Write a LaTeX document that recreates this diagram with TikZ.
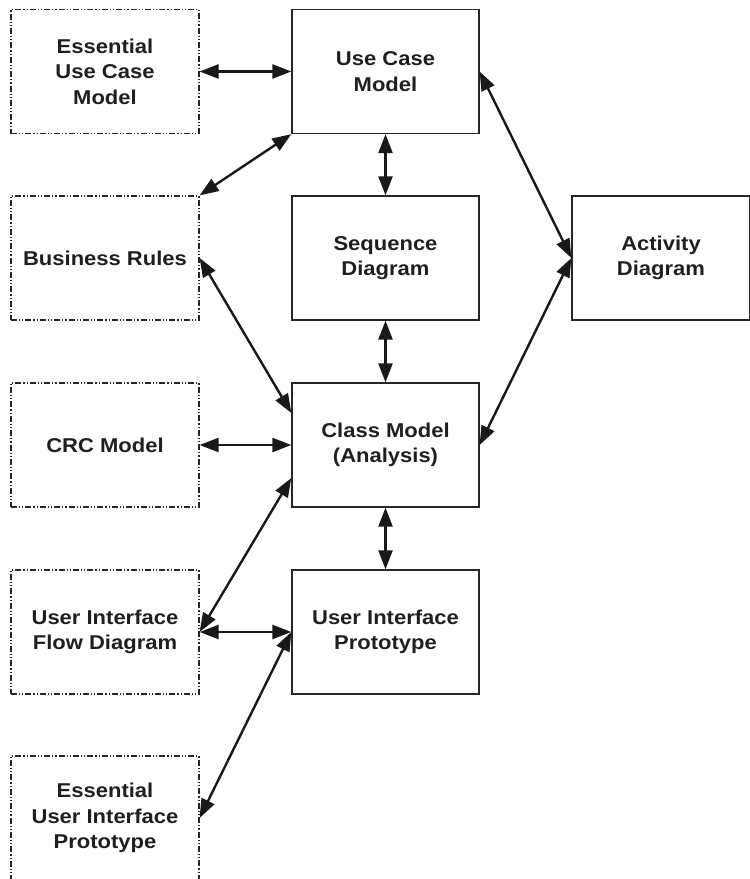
\documentclass[tikz,border=0pt]{standalone}
\usepackage{fontspec}
\setmainfont[FakeStretch=1.1]{Liberation Sans}
\usetikzlibrary{arrows.meta,calc}
\begin{document}
\begin{tikzpicture}[x=1pt,y=-1pt,
  every node/.style={font=\fontsize{20}{25.5}\selectfont\bfseries, text=black!88, align=center, inner sep=0pt},
  dbox/.style={draw=black!85, line width=1.2pt, dash pattern=on 6pt off 2pt on 1.2pt off 2pt on 1.2pt off 2pt, minimum width=188pt, minimum height=124pt},
  sbox/.style={draw=black!85, line width=1.3pt, minimum width=187pt, minimum height=124pt},
  link/.style={line width=2.4pt, draw=black!90, {Triangle[length=19pt,width=14pt]}-{Triangle[length=19pt,width=14pt]}}
]
\useasboundingbox (0,0) rectangle (750,879);
\node[dbox] (ess) at (105,71.5) {Essential\\Use Case\\Model};
\node[dbox] (br) at (105,258) {Business Rules};
\node[dbox] (crc) at (105,445) {CRC Model};
\node[dbox] (uif) at (105,632) {User Interface\\Flow Diagram};
\node[dbox] (eui) at (105,818) {Essential\\User Interface\\Prototype};
\node[sbox] (ucm) at (385.5,71.5) {Use Case\\Model};
\node[sbox] (seq) at (385.5,258) {Sequence\\Diagram};
\node[sbox] (cls) at (385.5,445) {Class Model\\(Analysis)};
\node[sbox] (uip) at (385.5,632) {User Interface\\Prototype};
\node[sbox, minimum width=178pt] (act) at (661,258) {Activity\\Diagram};
\draw[link] (ess.east) -- (ucm.west);
\draw[link] (br.north east) -- (ucm.south west);
\draw[link] (ucm.south) -- (seq.north);
\draw[link] (seq.south) -- (cls.north);
\draw[link] (br.east) -- ([yshift=32pt]cls.west);
\draw[link] (crc.east) -- (cls.west);
\draw[link] ([yshift=-33pt]cls.west) -- (uif.east);
\draw[link] (cls.south) -- (uip.north);
\draw[link] (uif.east) -- (uip.west);
\draw[link] (eui.east) -- (uip.west);
\draw[link] (ucm.east) -- (act.west);
\draw[link] (cls.east) -- (act.west);
\end{tikzpicture}
\end{document}
